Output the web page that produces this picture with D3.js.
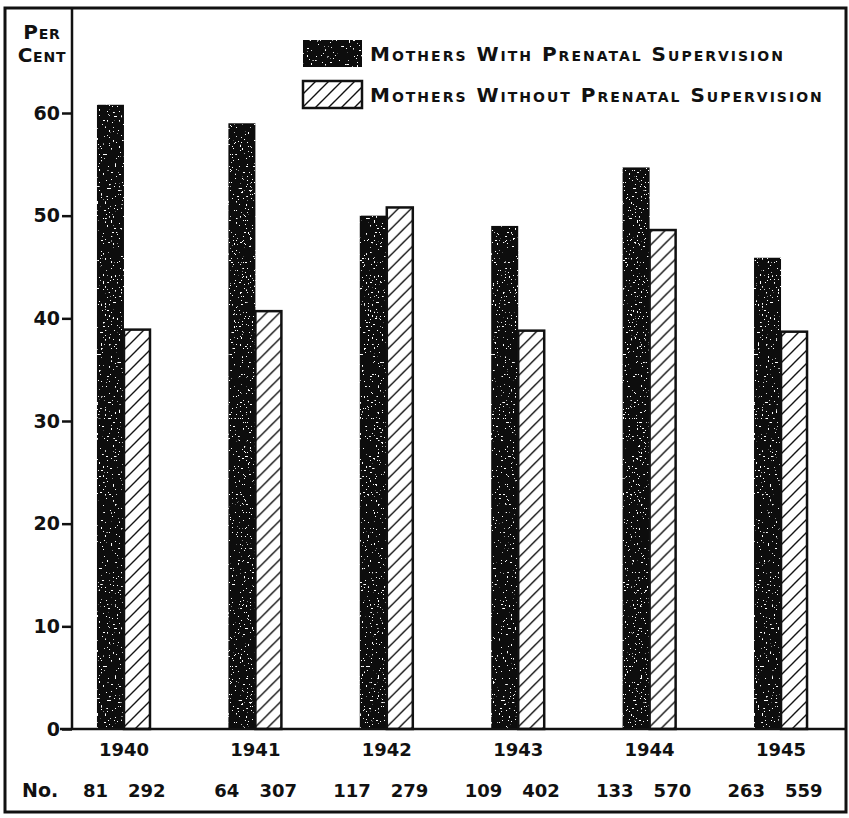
<!DOCTYPE html>
<html lang="en">
<head>
    <meta charset="UTF-8">
    <title>Mothers with and without prenatal supervision</title>
    <script src="https://d3js.org/d3.v7.min.js"></script>
    <style>
        body {
            margin: 0;
            background: #fff;
            font-family: "DejaVu Sans", Arial, sans-serif;
        }
        text {
            font-weight: bold;
            fill: #111;
        }
        .sc {
            font-variant: small-caps;
        }
    </style>
</head>
<body>
    <div id="chart"></div>

    <script>
        // values
        const years = ['1940', '1941', '1942', '1943', '1944', '1945'];
        const withSup = [60.8, 59.0, 50.0, 49.0, 54.7, 45.9];
        const withoutSup = [38.9, 40.7, 50.8, 38.8, 48.6, 38.7];
        const nWith = [81, 64, 117, 109, 133, 263];
        const nWithout = [292, 307, 279, 402, 570, 559];
        const yTicks = [0, 10, 20, 30, 40, 50, 60];
        const seriesNames = ['Mothers With Prenatal Supervision', 'Mothers Without Prenatal Supervision'];

        const width = 849, height = 818;
        const axisX = 72, baseY = 729;

        const svg = d3.select('#chart')
            .append('svg')
            .attr('width', width)
            .attr('height', height);

        const defs = svg.append('defs');
        const hatch = defs.append('pattern')
            .attr('id', 'hatch')
            .attr('patternUnits', 'userSpaceOnUse')
            .attr('width', 13)
            .attr('height', 13);
        hatch.append('rect').attr('width', 13).attr('height', 13).attr('fill', '#fff');
        hatch.append('path')
            .attr('d', 'M-3,16 L16,-3 M-3,3 L3,-3 M10,16 L16,10')
            .attr('stroke', '#111')
            .attr('stroke-width', 1.4);

        // a few white specks on the dark bars
        const f = defs.append('filter').attr('id', 'speckle');
        f.append('feTurbulence').attr('type', 'fractalNoise').attr('baseFrequency', 0.5).attr('numOctaves', 2).attr('seed', 7).attr('result', 'n');
        f.append('feColorMatrix').attr('in', 'n').attr('type', 'matrix')
            .attr('values', '0 0 0 0 1  0 0 0 0 1  0 0 0 0 1  0 0 0 -40 12.0').attr('result', 'w');
        f.append('feComposite').attr('in', 'w').attr('in2', 'SourceGraphic').attr('operator', 'in').attr('result', 'ws');
        f.append('feMerge').selectAll('feMergeNode')
            .data(['SourceGraphic', 'ws']).enter()
            .append('feMergeNode').attr('in', d => d);

        // frame
        svg.append('rect')
            .attr('x', 5).attr('y', 8)
            .attr('width', 841).attr('height', 804)
            .attr('fill', 'none')
            .attr('stroke', '#111')
            .attr('stroke-width', 3);

        const y = d3.scaleLinear().domain([0, 60]).range([baseY, 113]);

        const x = d3.scaleBand()
            .domain(years)
            .range([axisX, 833])
            .paddingInner(0.589)
            .paddingOuter(0.19);

        const xs = d3.scaleBand()
            .domain([0, 1])
            .range([0, x.bandwidth()]);

        // y axis
        svg.append('line')
            .attr('x1', axisX).attr('x2', axisX)
            .attr('y1', 8).attr('y2', baseY)
            .attr('stroke', '#111').attr('stroke-width', 2.5);

        const yAxis = svg.append('g')
            .attr('transform', `translate(${axisX},0)`)
            .call(d3.axisLeft(y).tickValues(yTicks).tickSize(10).tickPadding(2));
        yAxis.select('.domain').remove();
        yAxis.selectAll('line').attr('stroke', '#111').attr('stroke-width', 2.5);
        yAxis.selectAll('text')
            .style('font-size', '19px')
            .style('font-family', '"DejaVu Sans", sans-serif')
            .attr('fill', '#111');

        svg.append('text').attr('class', 'sc')
            .attr('x', 42).attr('y', 39)
            .attr('text-anchor', 'middle')
            .style('font-size', '20px')
            .style('letter-spacing', '0.8px')
            .text('Per');
        svg.append('text').attr('class', 'sc')
            .attr('x', 42).attr('y', 62)
            .attr('text-anchor', 'middle')
            .style('font-size', '20px')
            .style('letter-spacing', '0.8px')
            .text('Cent');

        // bars
        const groups = svg.selectAll('.grp')
            .data(years)
            .enter()
            .append('g')
            .attr('class', 'grp')
            .attr('transform', d => `translate(${x(d)},0)`);

        groups.append('rect')
            .attr('x', xs(0))
            .attr('width', xs.bandwidth())
            .attr('y', (d, i) => y(withSup[i]))
            .attr('height', (d, i) => baseY - y(withSup[i]))
            .attr('fill', '#111')
            .attr('filter', 'url(#speckle)');

        groups.append('rect')
            .attr('x', xs(1))
            .attr('width', xs.bandwidth() - 1)
            .attr('y', (d, i) => y(withoutSup[i]))
            .attr('height', (d, i) => baseY - y(withoutSup[i]))
            .attr('fill', 'url(#hatch)')
            .attr('stroke', '#111')
            .attr('stroke-width', 2.5);

        // baseline
        svg.append('line')
            .attr('x1', 60).attr('x2', 846)
            .attr('y1', baseY).attr('y2', baseY)
            .attr('stroke', '#111').attr('stroke-width', 2.5);

        // year labels and counts
        groups.append('text')
            .attr('x', x.bandwidth() / 2)
            .attr('y', 756)
            .attr('text-anchor', 'middle')
            .style('font-size', '18px')
            .text(d => d);

        groups.append('text')
            .attr('x', x.bandwidth() / 2 - 16)
            .attr('y', 797)
            .attr('text-anchor', 'end')
            .style('font-size', '18px')
            .text((d, i) => nWith[i]);

        groups.append('text')
            .attr('x', x.bandwidth() / 2 + 4)
            .attr('y', 797)
            .attr('text-anchor', 'start')
            .style('font-size', '18px')
            .text((d, i) => nWithout[i]);

        svg.append('text')
            .attr('x', 22).attr('y', 797)
            .style('font-size', '19px')
            .text('No.');

        // legend
        const legend = svg.selectAll('.legend')
            .data(seriesNames)
            .enter()
            .append('g')
            .attr('class', 'legend')
            .attr('transform', (d, i) => `translate(303,${40 + i * 41})`);

        legend.append('rect')
            .attr('width', 59)
            .attr('height', 27)
            .attr('fill', (d, i) => i === 0 ? '#111' : 'url(#hatch)')
            .attr('stroke', '#111')
            .attr('stroke-width', (d, i) => i === 0 ? 0 : 2.5)
            .attr('filter', (d, i) => i === 0 ? 'url(#speckle)' : null);

        legend.append('text')
            .attr('class', 'sc')
            .attr('x', 67)
            .attr('y', 21)
            .style('font-size', '20px')
            .style('letter-spacing', '2px')
            .text(d => d);
    </script>
</body>
</html>
